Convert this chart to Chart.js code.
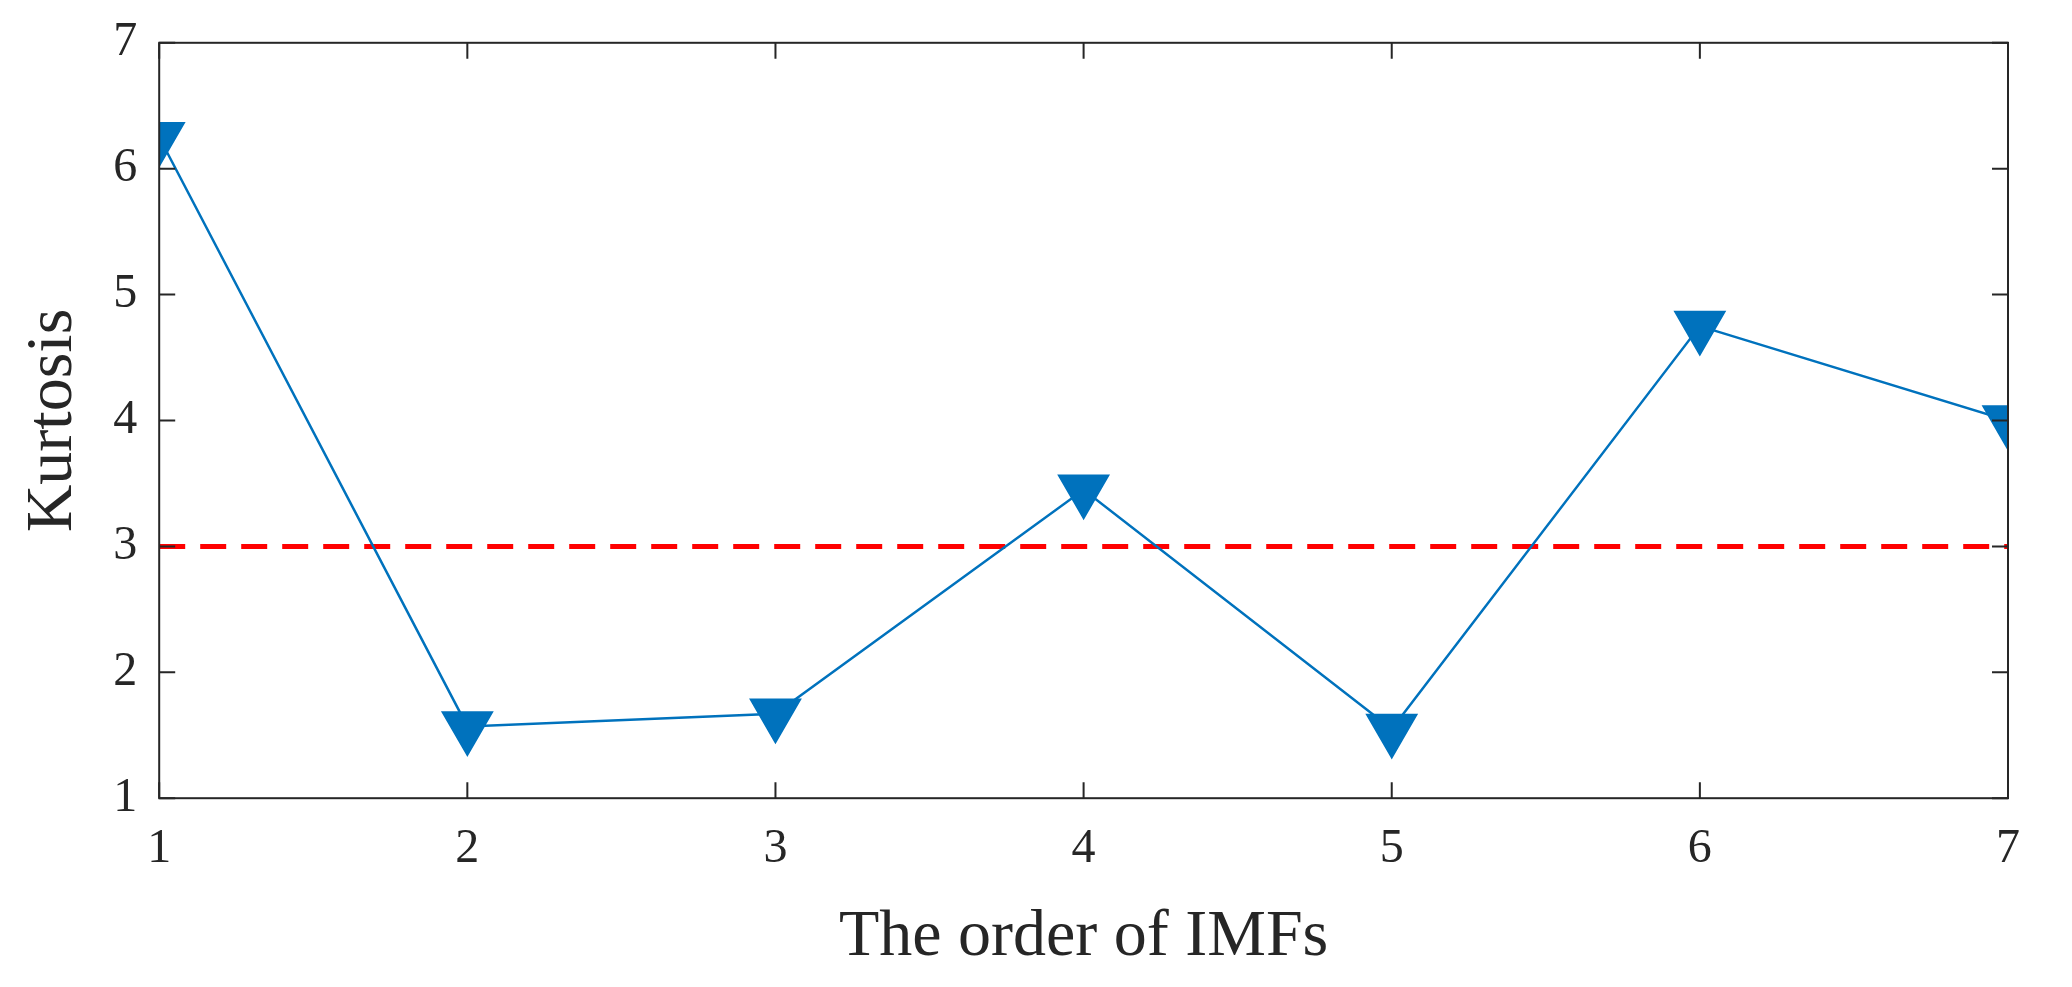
<!DOCTYPE html>
<html>
<head>
<meta charset="utf-8">
<script src="https://cdn.jsdelivr.net/npm/chart.js@4"></script>
<style>
  html, body { margin: 0; padding: 0; background: #fff; }
  #wrap { width: 2072px; height: 987px; }
</style>
</head>
<body>
<div id="wrap"><canvas id="chart"></canvas></div>
<script>
// Data
const imfOrder = [1, 2, 3, 4, 5, 6, 7];
const kurtosis = [6.25, 1.57, 1.67, 3.45, 1.55, 4.75, 4.0];
const threshold = 3;
const yTicks = [1, 2, 3, 4, 5, 6, 7];

const FONT = "'Liberation Serif', 'DejaVu Serif', serif";

// Inward ticks on all four sides plus the frame
const frameTicks = {
    id: 'frameTicks',
    afterDraw(chart) {
        const { ctx, chartArea: a, scales: { x, y } } = chart;
        ctx.save();
        ctx.strokeStyle = '#262626';
        ctx.lineWidth = 2;
        ctx.strokeRect(a.left, a.top, a.right - a.left, a.bottom - a.top);
        const len = 16;
        ctx.beginPath();
        imfOrder.forEach(v => {
            const px = x.getPixelForValue(v);
            ctx.moveTo(px, a.bottom); ctx.lineTo(px, a.bottom - len);
            ctx.moveTo(px, a.top); ctx.lineTo(px, a.top + len);
        });
        yTicks.forEach(v => {
            const py = y.getPixelForValue(v);
            ctx.moveTo(a.left, py); ctx.lineTo(a.left + len, py);
            ctx.moveTo(a.right, py); ctx.lineTo(a.right - len, py);
        });
        ctx.stroke();
        ctx.restore();
    }
};

new Chart(document.getElementById('chart'), {
    type: 'line',
    data: {
        datasets: [{
            label: 'Kurtosis',
            data: imfOrder.map((v, i) => ({ x: v, y: kurtosis[i] })),
            borderColor: '#0072BD',
            backgroundColor: '#0072BD',
            borderWidth: 2.5,
            pointStyle: 'triangle',
            rotation: 180,
            pointRadius: 28,
            pointHoverRadius: 28,
            tension: 0
        }, {
            label: 'Threshold',
            data: [{ x: 1, y: threshold }, { x: 7, y: threshold }],
            borderColor: '#FF0000',
            borderWidth: 5,
            borderDash: [26, 15],
            pointRadius: 0
        }]
    },
    options: {
        responsive: true,
        maintainAspectRatio: false,
        animation: false,
        layout: { padding: { top: 38, right: 64, left: 10, bottom: 6 } },
        plugins: { legend: { display: false }, tooltip: { enabled: false } },
        scales: {
            x: {
                type: 'linear', min: 1, max: 7,
                afterBuildTicks: s => { s.ticks = imfOrder.map(v => ({ value: v })); },
                grid: { display: false },
                border: { display: false },
                ticks: { color: '#262626', font: { family: FONT, size: 48 }, padding: 14 },
                title: { display: true, text: 'The order of IMFs', color: '#262626',
                         font: { family: FONT, size: 66 }, padding: { top: 6 } }
            },
            y: {
                min: 1, max: 7,
                afterBuildTicks: s => { s.ticks = yTicks.map(v => ({ value: v })); },
                grid: { display: false },
                border: { display: false },
                ticks: { color: '#262626', font: { family: FONT, size: 48 }, padding: 14 },
                title: { display: true, text: 'Kurtosis', color: '#262626',
                         font: { family: FONT, size: 66 }, padding: { bottom: 6 } }
            }
        }
    },
    plugins: [frameTicks]
});
</script>
</body>
</html>
